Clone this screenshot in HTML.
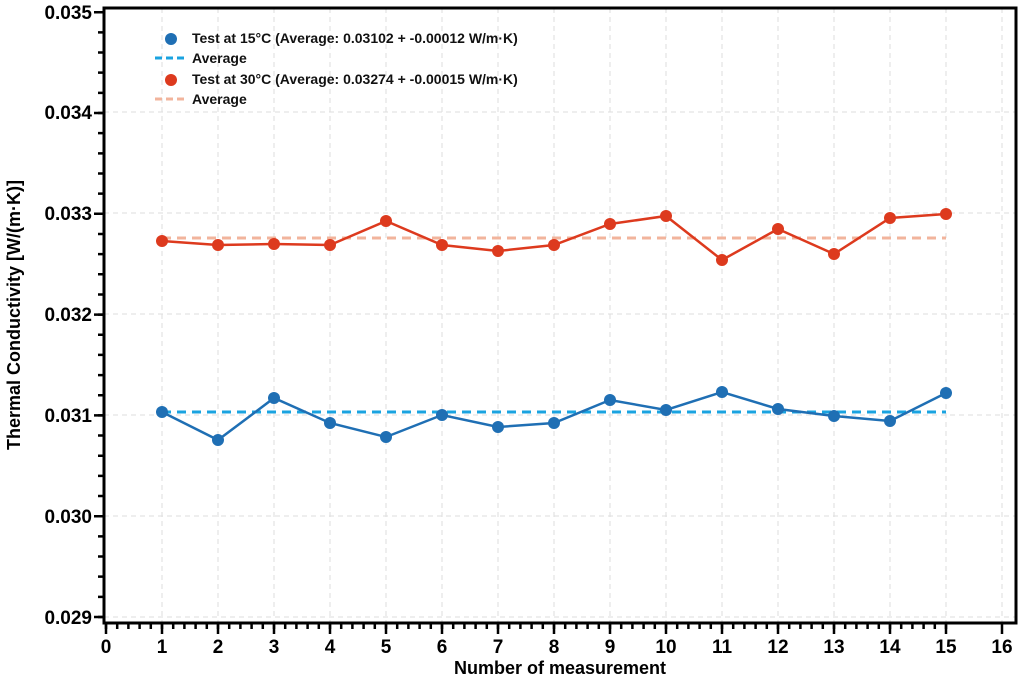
<!DOCTYPE html>
<html><head><meta charset="utf-8"><style>
html,body{margin:0;padding:0;background:#fff;}
svg{display:block;font-family:"Liberation Sans",sans-serif;font-weight:bold;}
</style></head><body>
<svg width="1024" height="685" viewBox="0 0 1024 685" xmlns="http://www.w3.org/2000/svg">
<g stroke="#ddd" stroke-width="1" stroke-dasharray="5,4">
<line x1="104" x2="1016" y1="617" y2="617"/><line x1="104" x2="1016" y1="516" y2="516"/>
<line x1="104" x2="1016" y1="415" y2="415"/><line x1="104" x2="1016" y1="314" y2="314"/>
<line x1="104" x2="1016" y1="213" y2="213"/><line x1="104" x2="1016" y1="112" y2="112"/>
<line x1="162" x2="162" y1="8" y2="623"/><line x1="218" x2="218" y1="8" y2="623"/><line x1="274" x2="274" y1="8" y2="623"/><line x1="330" x2="330" y1="8" y2="623"/><line x1="386" x2="386" y1="8" y2="623"/><line x1="442" x2="442" y1="8" y2="623"/><line x1="498" x2="498" y1="8" y2="623"/><line x1="554" x2="554" y1="8" y2="623"/><line x1="610" x2="610" y1="8" y2="623"/><line x1="666" x2="666" y1="8" y2="623"/><line x1="722" x2="722" y1="8" y2="623"/><line x1="778" x2="778" y1="8" y2="623"/><line x1="834" x2="834" y1="8" y2="623"/><line x1="890" x2="890" y1="8" y2="623"/><line x1="946" x2="946" y1="8" y2="623"/><line x1="1002" x2="1002" y1="8" y2="623"/>
</g>
<line x1="162" x2="946" y1="412" y2="412" stroke="#1aa3e0" stroke-width="3" stroke-dasharray="9,6"/>
<line x1="162" x2="946" y1="238" y2="238" stroke="#f2b49c" stroke-width="3" stroke-dasharray="9,6"/>
<polyline fill="none" stroke="#1f6fb4" stroke-width="2.5" points="162,412 218,440 274,398 330,423 386,437 442,415 498,427 554,423 610,400 666,410 722,392 778,409 834,416 890,421 946,393"/>
<g fill="#1f6fb4"><circle cx="162" cy="412" r="6"/><circle cx="218" cy="440" r="6"/><circle cx="274" cy="398" r="6"/><circle cx="330" cy="423" r="6"/><circle cx="386" cy="437" r="6"/><circle cx="442" cy="415" r="6"/><circle cx="498" cy="427" r="6"/><circle cx="554" cy="423" r="6"/><circle cx="610" cy="400" r="6"/><circle cx="666" cy="410" r="6"/><circle cx="722" cy="392" r="6"/><circle cx="778" cy="409" r="6"/><circle cx="834" cy="416" r="6"/><circle cx="890" cy="421" r="6"/><circle cx="946" cy="393" r="6"/></g>
<polyline fill="none" stroke="#dd3a1e" stroke-width="2.5" points="162,241 218,245 274,244 330,245 386,221 442,245 498,251 554,245 610,224 666,216 722,260 778,229 834,254 890,218 946,214"/>
<g fill="#dd3a1e"><circle cx="162" cy="241" r="6"/><circle cx="218" cy="245" r="6"/><circle cx="274" cy="244" r="6"/><circle cx="330" cy="245" r="6"/><circle cx="386" cy="221" r="6"/><circle cx="442" cy="245" r="6"/><circle cx="498" cy="251" r="6"/><circle cx="554" cy="245" r="6"/><circle cx="610" cy="224" r="6"/><circle cx="666" cy="216" r="6"/><circle cx="722" cy="260" r="6"/><circle cx="778" cy="229" r="6"/><circle cx="834" cy="254" r="6"/><circle cx="890" cy="218" r="6"/><circle cx="946" cy="214" r="6"/></g>
<rect x="104" y="8" width="912" height="615" fill="none" stroke="#000" stroke-width="3"/>
<g stroke="#000" stroke-width="2.5" fill="none">
<path d="M106,624v5m11.2,-5v5m11.2,-5v5m11.2,-5v5m11.2,-5v5m11.2,-5v5m11.2,-5v5m11.2,-5v5m11.2,-5v5m11.2,-5v5m11.2,-5v5m11.2,-5v5m11.2,-5v5m11.2,-5v5m11.2,-5v5m11.2,-5v5m11.2,-5v5m11.2,-5v5m11.2,-5v5m11.2,-5v5m11.2,-5v5m11.2,-5v5m11.2,-5v5m11.2,-5v5m11.2,-5v5m11.2,-5v5m11.2,-5v5m11.2,-5v5m11.2,-5v5m11.2,-5v5m11.2,-5v5m11.2,-5v5m11.2,-5v5m11.2,-5v5m11.2,-5v5m11.2,-5v5m11.2,-5v5m11.2,-5v5m11.2,-5v5m11.2,-5v5m11.2,-5v5m11.2,-5v5m11.2,-5v5m11.2,-5v5m11.2,-5v5m11.2,-5v5m11.2,-5v5m11.2,-5v5m11.2,-5v5m11.2,-5v5m11.2,-5v5m11.2,-5v5m11.2,-5v5m11.2,-5v5m11.2,-5v5m11.2,-5v5m11.2,-5v5m11.2,-5v5m11.2,-5v5m11.2,-5v5m11.2,-5v5m11.2,-5v5m11.2,-5v5m11.2,-5v5m11.2,-5v5m11.2,-5v5m11.2,-5v5m11.2,-5v5m11.2,-5v5m11.2,-5v5m11.2,-5v5m11.2,-5v5m11.2,-5v5m11.2,-5v5m11.2,-5v5m11.2,-5v5"/>
<path d="M106,624v10m56,-10v10m56,-10v10m56,-10v10m56,-10v10m56,-10v10m56,-10v10m56,-10v10m56,-10v10m56,-10v10m56,-10v10m56,-10v10m56,-10v10m56,-10v10m56,-10v10m56,-10v10m56,-10v10"/>
<path d="M98,617h5m-5,-20.16h5m-5,-20.16h5m-5,-20.16h5m-5,-20.16h5m-5,-20.16h5m-5,-20.16h5m-5,-20.16h5m-5,-20.16h5m-5,-20.16h5m-5,-20.16h5m-5,-20.16h5m-5,-20.16h5m-5,-20.16h5m-5,-20.16h5m-5,-20.16h5m-5,-20.16h5m-5,-20.16h5m-5,-20.16h5m-5,-20.16h5m-5,-20.16h5m-5,-20.16h5m-5,-20.16h5m-5,-20.16h5m-5,-20.16h5m-5,-20.16h5m-5,-20.16h5m-5,-20.16h5m-5,-20.16h5m-5,-20.16h5m-5,-20.16h5"/>
<path d="M94,617h9m-9,-100.8h9m-9,-100.8h9m-9,-100.8h9m-9,-100.8h9m-9,-100.8h9m-9,-100.8h9"/>
</g>
<g font-size="19" text-anchor="end" fill="#000">
<text x="92" y="624">0.029</text><text x="92" y="523">0.030</text><text x="92" y="422">0.031</text><text x="92" y="321">0.032</text><text x="92" y="220">0.033</text><text x="92" y="119">0.034</text><text x="92" y="19">0.035</text>
</g>
<g font-size="19" text-anchor="middle" fill="#000">
<text x="106" y="653">0</text><text x="162" y="653">1</text><text x="218" y="653">2</text><text x="274" y="653">3</text><text x="330" y="653">4</text><text x="386" y="653">5</text><text x="442" y="653">6</text><text x="498" y="653">7</text><text x="554" y="653">8</text><text x="610" y="653">9</text><text x="666" y="653">10</text><text x="722" y="653">11</text><text x="778" y="653">12</text><text x="834" y="653">13</text><text x="890" y="653">14</text><text x="946" y="653">15</text><text x="1002" y="653">16</text>
<text x="560" y="674" font-size="18">Number of measurement</text>
<text transform="translate(20,315) rotate(-90)" font-size="18">Thermal Conductivity [W/(m·K)]</text>
</g>
<circle cx="171" cy="39" r="6" fill="#1f6fb4"/>
<line x1="155" x2="185" y1="58" y2="58" stroke="#1aa3e0" stroke-width="3" stroke-dasharray="7,4"/>
<circle cx="171" cy="80" r="6" fill="#dd3a1e"/>
<line x1="155" x2="185" y1="99" y2="99" stroke="#f2b49c" stroke-width="3" stroke-dasharray="7,4"/>
<g font-size="14" fill="#111">
<text x="192" y="43">Test at 15°C (Average: 0.03102 + -0.00012 W/m·K)</text>
<text x="192" y="63">Average</text>
<text x="192" y="84">Test at 30°C (Average: 0.03274 + -0.00015 W/m·K)</text>
<text x="192" y="104">Average</text>
</g>
</svg>
</body></html>
